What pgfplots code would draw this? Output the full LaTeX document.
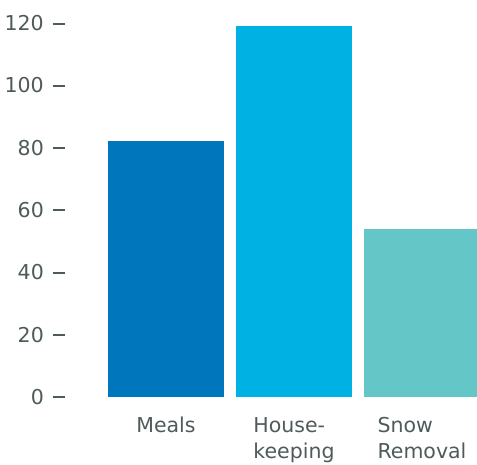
\documentclass[border=0pt]{standalone}
\usepackage{fontspec}
\setmainfont{DejaVu Sans}
\usepackage{pgfplots}
\pgfplotsset{compat=1.18}

\definecolor{meals}{HTML}{0076BC}
\definecolor{house}{HTML}{00B2E3}
\definecolor{snow}{HTML}{64C6C6}
\definecolor{txt}{HTML}{4F5A5A}

\begin{document}
\begin{tikzpicture}
\begin{axis}[
    name=ax,
    scale only axis,
    width=412bp, height=397bp,
    xmin=-0.789, xmax=2.43,
    ymin=0, ymax=127.4,
    axis line style={draw=none},
    major tick length=0pt,
    ybar, bar width=116bp, bar shift=0pt,
    xtick={0,1,2},
    xticklabels={Meals, {House-\\keeping}, {Snow\\Removal}},
    ytick={0,20,40,60,80,100,120},
    /pgf/number format/assume math mode=true,
    yticklabel={\pgfmathprintnumber{\tick}\hspace{9bp}\rule[6bp]{12bp}{2bp}},
    yticklabel style={anchor=east, inner sep=0pt, text=txt,
        font=\fontsize{20.5bp}{27bp}\selectfont},
    xticklabel style={anchor=north, inner sep=0pt, yshift=-20bp,
        align=left, text=txt, font=\fontsize{20.5bp}{26.5bp}\selectfont},
]
\addplot[draw=none, fill=meals] coordinates {(0,82)};
\addplot[draw=none, fill=house] coordinates {(1,119)};
\addplot[draw=none, fill=snow] coordinates {(2,54)};
\end{axis}
\pgfresetboundingbox
\path (ax.south west) ++(-65bp,-68bp) rectangle (ax.north east);
\end{tikzpicture}
\end{document}
